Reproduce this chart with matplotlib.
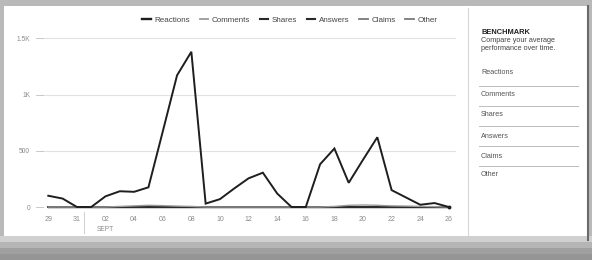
import matplotlib
matplotlib.use("Agg")
import matplotlib.pyplot as plt
from matplotlib.patches import Rectangle
from matplotlib.lines import Line2D

plt.rcParams['font.family'] = ['Liberation Sans', 'DejaVu Sans']

# ---- data (Aug 29 .. Sep 26, daily) ----
days = list(range(29))
reactions = [100, 75, 0, 0, 95, 140, 135, 175, 670, 1170, 1380, 30, 70, 165, 255, 305,
             120, 0, 0, 380, 520, 215, 420, 620, 150, 85, 20, 35, 0]
comments = [0, 0, 0, 0, 0, 5, 10, 15, 12, 8, 5, 0, 0, 0, 0, 0,
            0, 0, 0, 0, 5, 15, 18, 15, 10, 8, 5, 3, 0]
shares = [0] * 29
answers = [0] * 29
claims = [0] * 29
other = [0] * 29

series_names = ["Reactions", "Comments", "Shares", "Answers", "Claims", "Other"]
series_vals = [reactions, comments, shares, answers, claims, other]
series_colors = ["#1e1e1e", "#9a9a9a", "#2a2a2a", "#2a2a2a", "#7a7a7a", "#7a7a7a"]
series_lw = [1.4, 1.0, 1.2, 1.2, 1.0, 1.0]

tick_days = [0, 2, 4, 6, 8, 10, 12, 14, 16, 18, 20, 22, 24, 26, 28]
tick_labels = ["29", "31", "02", "04", "06", "08", "10", "12", "14", "16", "18", "20", "22", "24", "26"]
y_ticks = [0, 500, 1000, 1500]
y_labels = ["0", "500", "1K", "1.5K"]
panel_items = ["Reactions", "Comments", "Shares", "Answers", "Claims", "Other"]

W, H = 592, 260
fig = plt.figure(figsize=(W / 100, H / 100), dpi=100)
fig.patch.set_facecolor("#b9b9b9")

def fx(px):
    return px / W

def fy(py):
    return 1 - py / H

# bottom shadow gradient
for i, c in enumerate(["#d0d0d0", "#b5b5b5", "#a0a0a0", "#959595"]):
    fig.patches.append(Rectangle((0, fy(260)), 1, (24 - i * 6) / H, transform=fig.transFigure,
                                 facecolor=c, edgecolor="none", zorder=-10))
# white card
fig.patches.append(Rectangle((fx(4), fy(236)), fx(584), 230 / H, transform=fig.transFigure,
                             facecolor="white", edgecolor="none", zorder=-9))

# chart axes
left_px, right_px = 44, 456
ax = fig.add_axes([fx(left_px), fy(211.5), fx(right_px - left_px), 180 / H])
ax.set_zorder(5)
ax.set_facecolor("none")
ax.set_xlim(-0.3, 28.5)
ax.set_ylim(-40, 1560)
for s in ax.spines.values():
    s.set_visible(False)

for yt in y_ticks[1:]:
    ax.axhline(yt, color="#e2e2e2", lw=0.8, zorder=1)

for name, vals, col, lw in reversed(list(zip(series_names, series_vals, series_colors, series_lw))):
    ax.plot(days, vals, color=col, lw=lw, zorder=3 if name == "Reactions" else 2,
            solid_joinstyle="miter")
ax.plot([days[-1]], [reactions[-1]], marker="o", ms=1.8, color="#1e1e1e", zorder=4)

ax.set_yticks(y_ticks)
ax.set_yticklabels(y_labels)
ax.set_xticks(tick_days)
ax.set_xticklabels(tick_labels)
ax.tick_params(axis="y", length=0, pad=10, labelsize=4.8, labelcolor="#8a8a8a")
ax.tick_params(axis="x", length=0, pad=3, labelsize=5.0, labelcolor="#8a8a8a")

# short dashes after y labels
for yt in y_ticks:
    ax.plot([-0.85, -0.35], [yt, yt], color="#c8c8c8", lw=0.7, clip_on=False)

# month divider and label
ax.plot([2.5, 2.5], [-40, -230], color="#cfcfcf", lw=0.7, clip_on=False)
ax.text(4, -170, "SEPT", ha="center", va="top", fontsize=4.8, color="#8a8a8a")

# legend
handles = [Line2D([0], [0], color=c, lw=lw + 0.3) for c, lw in zip(series_colors, series_lw)]
fig.legend(handles, series_names, loc="center", bbox_to_anchor=(fx(290), fy(20)), ncol=6,
           frameon=False, fontsize=5.8, handlelength=1.0, handletextpad=0.5, columnspacing=1.2,
           labelcolor="#444444")

# right benchmark panel
fig.add_artist(Line2D([fx(468), fx(468)], [fy(8), fy(236)], color="#d6d6d6", lw=0.8))
fig.add_artist(Line2D([fx(588), fx(588)], [fy(6), fy(240)], color="#6a6a6a", lw=1.5))
fig.text(fx(481), fy(33), "BENCHMARK", fontsize=5.4, fontweight="bold", color="#222222", va="center")
fig.text(fx(481), fy(41), "Compare your average", fontsize=5.2, color="#444444", va="center")
fig.text(fx(481), fy(49), "performance over time.", fontsize=5.2, color="#444444", va="center")
item_y = [73, 95, 115, 136, 156, 175]
for name, yy in zip(panel_items, item_y):
    fig.text(fx(481), fy(yy), name, fontsize=5.2, color="#555555", va="center")
for yy in [86, 106, 126, 146, 166]:
    fig.add_artist(Line2D([fx(479), fx(578)], [fy(yy), fy(yy)], color="#bdbdbd", lw=0.7))

fig.savefig("out.png", dpi=100, facecolor=fig.get_facecolor())
